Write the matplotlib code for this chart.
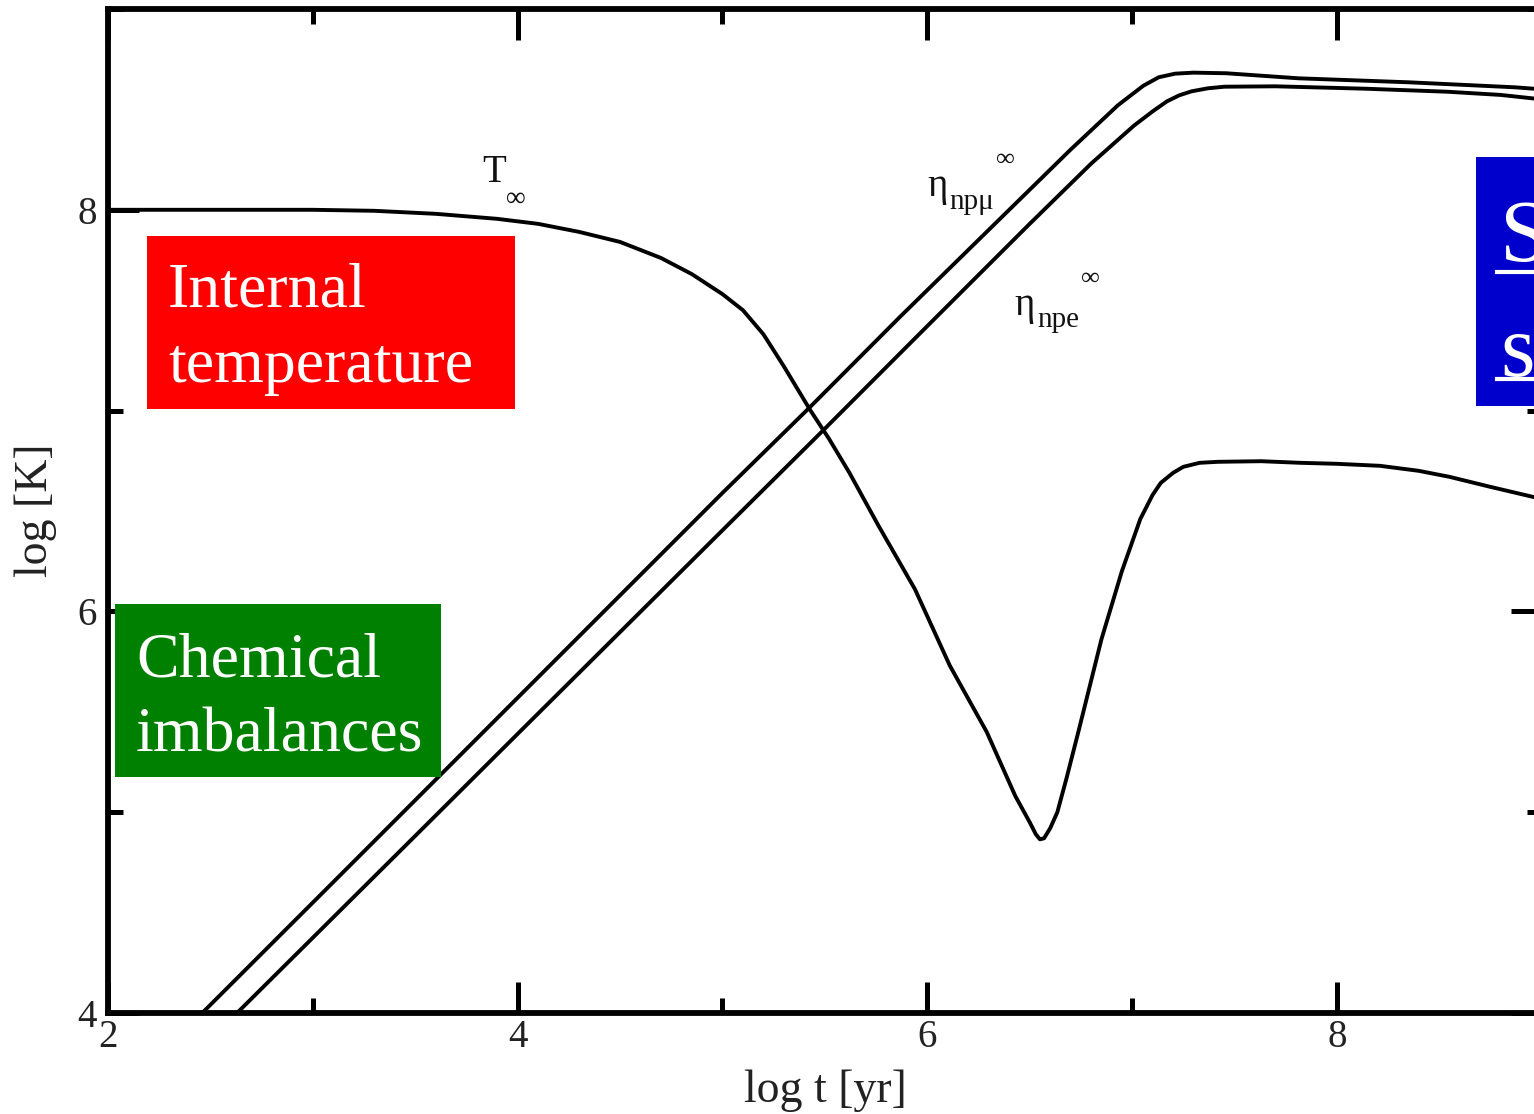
import matplotlib
matplotlib.use('Agg')
import matplotlib.pyplot as plt
from matplotlib.patches import Rectangle
from matplotlib.ticker import MultipleLocator

# log t [yr] vs log T for the internal temperature
t_logt = [2.0, 2.5, 3.0, 3.3, 3.6, 3.9, 4.1, 4.3, 4.5, 4.7, 4.85, 5.0, 5.1, 5.2,
          5.3, 5.43, 5.52, 5.62, 5.76, 5.94, 6.11, 6.29, 6.43, 6.50, 6.53, 6.55,
          6.57, 6.60, 6.635, 6.68, 6.74, 6.85, 6.95, 7.04, 7.1, 7.14, 7.2, 7.25,
          7.33, 7.42, 7.63, 7.82, 8.0, 8.21, 8.4, 8.55, 8.75, 9.0]
t_logT = [8.0, 8.0, 8.0, 7.995, 7.98, 7.955, 7.93, 7.89, 7.84, 7.76, 7.68, 7.58,
          7.50, 7.38, 7.22, 7.0, 6.86, 6.69, 6.43, 6.11, 5.73, 5.40, 5.08, 4.95,
          4.89, 4.865, 4.87, 4.92, 5.0, 5.17, 5.41, 5.86, 6.2, 6.46, 6.58, 6.64,
          6.69, 6.72, 6.74, 6.745, 6.748, 6.74, 6.735, 6.725, 6.70, 6.67, 6.62, 6.56]

# eta_npmu
mu_logt = [2.46, 3.0, 3.5, 4.0, 4.5, 5.0, 5.42, 5.87, 6.4, 6.7, 6.93, 7.0, 7.055,
           7.13, 7.21, 7.3, 7.46, 7.81, 8.35, 8.87, 9.0]
mu_logK = [4.0, 4.55, 5.06, 5.57, 6.08, 6.59, 7.01, 7.47, 8.0, 8.3, 8.52, 8.575,
           8.618, 8.66, 8.678, 8.683, 8.68, 8.655, 8.635, 8.61, 8.60]

# eta_npe
e_logt = [2.63, 3.0, 3.5, 4.0, 4.5, 5.0, 5.49, 5.95, 6.5, 6.8, 7.01, 7.1, 7.17,
          7.23, 7.29, 7.37, 7.45, 7.7, 8.14, 8.54, 8.8, 9.0]
e_logK = [4.0, 4.375, 4.882, 5.39, 5.897, 6.404, 6.9, 7.37, 7.93, 8.23, 8.42,
          8.49, 8.54, 8.57, 8.59, 8.605, 8.613, 8.615, 8.603, 8.588, 8.572, 8.55]

xticks = [2, 4, 6, 8]
yticks = [4, 6, 8]

plt.rcParams['font.family'] = ['Liberation Serif', 'DejaVu Serif']

W, H = 1534, 1114
fig = plt.figure(figsize=(W / 100, H / 100), dpi=100)
ax = fig.add_axes([108 / W, 101 / H, 1433.75 / W, 1004 / H])

lw = 2.8
ax.plot(t_logt, t_logT, color='k', lw=lw, zorder=2)
ax.plot(mu_logt, mu_logK, color='k', lw=lw, zorder=2)
ax.plot(e_logt, e_logK, color='k', lw=lw, zorder=2)

ax.set_xlim(2, 9)
ax.set_ylim(4, 9)
ax.set_xticks(xticks)
ax.set_yticks(yticks)
ax.xaxis.set_minor_locator(MultipleLocator(1))
ax.yaxis.set_minor_locator(MultipleLocator(1))
ax.tick_params(which='both', direction='in', top=True, right=True, width=3.6,
               labelsize=28, labelcolor='#222222')
ax.tick_params(which='major', length=22)
ax.tick_params(which='minor', length=11)
ax.tick_params(axis='x', pad=4)
ax.tick_params(axis='y', pad=8)
for sp in ax.spines.values():
    sp.set_linewidth(4.2)

ax.set_xlabel('log t [yr]', fontsize=33, color='#222222')
ax.xaxis.label.set_va('baseline')
ax.xaxis.set_label_coords(0.5, -0.0886)
ax.set_ylabel('log [K]', fontsize=33, color='#222222')
ax.yaxis.label.set_va('baseline')
ax.yaxis.set_label_coords(-0.0425, 0.501)

# curve labels
lab = dict(color='#111111', ha='center', va='center')
ax.text(3.885, 8.185, 'T', fontsize=28, **lab)
ax.text(3.993, 8.05, '∞', fontsize=20, **lab)
ax.text(6.049, 8.115, 'η', fontsize=28, **lab)
ax.text(6.215, 8.04, 'npμ', fontsize=21, **lab)
ax.text(6.38, 8.25, '∞', fontsize=19, **lab)
ax.text(6.474, 7.521, 'η', fontsize=28, **lab)
ax.text(6.64, 7.45, 'npe', fontsize=21, **lab)
ax.text(6.796, 7.656, '∞', fontsize=19, **lab)

# coloured boxes
ax.add_patch(Rectangle((2.19, 7.01), 1.798, 0.86, facecolor='#ff0000',
                       edgecolor='none', zorder=3))
ax.text(2.293, 7.516, 'Internal', fontsize=46, color='white', va='baseline', zorder=4)
ax.text(2.293, 7.142, 'temperature', fontsize=46, color='white', va='baseline', zorder=4)

ax.add_patch(Rectangle((2.034, 5.177), 1.592, 0.858, facecolor='#008000',
                       edgecolor='none', zorder=3, clip_on=False))
ax.text(2.137, 5.676, 'Chemical', fontsize=46, color='white', va='baseline', zorder=4)
ax.text(2.137, 5.302, 'imbalances', fontsize=46, color='white', va='baseline', zorder=4)

ax.add_patch(Rectangle((8.68, 7.022), 1.5, 1.242, facecolor='#0000cc',
                       edgecolor='none', zorder=3, clip_on=False))
ax.text(8.798, 7.746, 'Superfluidity', fontsize=64, color='white', va='baseline',
        zorder=4, clip_on=False)
ax.text(8.798, 7.172, 'superconductivity', fontsize=64, color='white', va='baseline',
        zorder=4, clip_on=False)
ax.plot([8.78, 9.5], [7.69, 7.69], color='white', lw=3, zorder=4, clip_on=False)
ax.plot([8.78, 9.5], [7.157, 7.157], color='white', lw=3, zorder=4, clip_on=False)

fig.savefig('out.png', dpi=100)
